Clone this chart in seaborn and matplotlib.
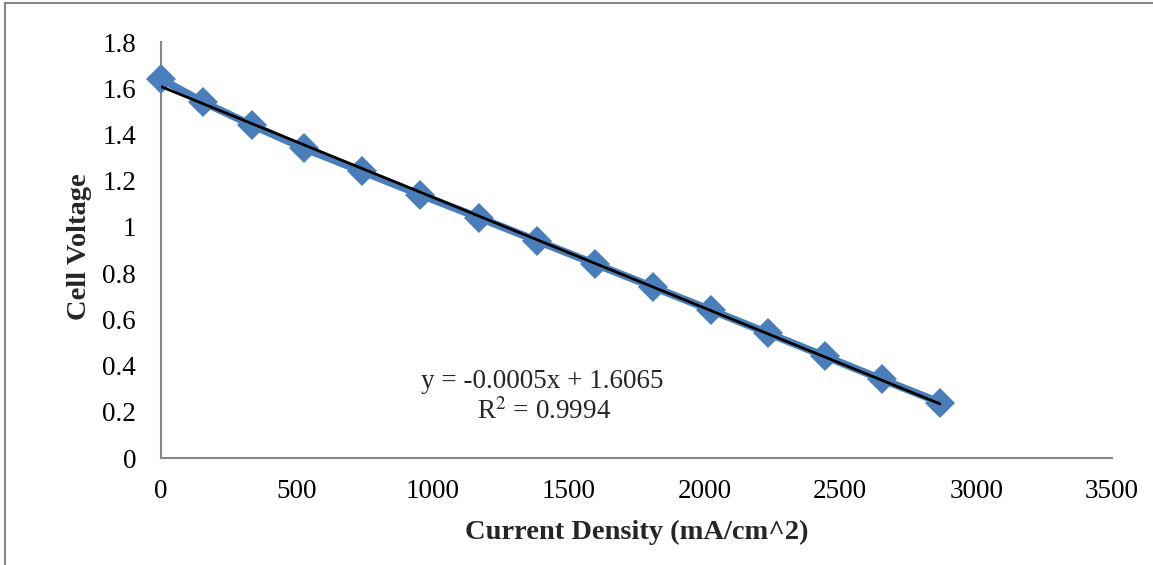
import numpy as np
import pandas as pd
import matplotlib
matplotlib.use('Agg')
import matplotlib.pyplot as plt
import seaborn as sns
from matplotlib.patches import Rectangle

# data
current_density = [0, 155, 335, 526, 740, 953, 1170, 1384, 1597, 1811, 2024, 2234, 2444, 2654, 2867]
cell_voltage = [1.64, 1.54, 1.44, 1.34, 1.24, 1.14, 1.04, 0.94, 0.84, 0.74, 0.64, 0.54, 0.44, 0.34, 0.24]
x_ticks = [0, 500, 1000, 1500, 2000, 2500, 3000, 3500]
y_ticks = [0, 0.2, 0.4, 0.6, 0.8, 1.0, 1.2, 1.4, 1.6, 1.8]
eq_text = "y = -0.0005x + 1.6065"
r2_text = "R$^2$ = 0.9994"

df = pd.DataFrame({'x': current_density, 'y': cell_voltage})

sns.set_style('white')
plt.rcParams['font.family'] = ['Liberation Serif', 'DejaVu Serif']
plt.rcParams['mathtext.fontset'] = 'stix'

blue = '#4A7EBB'
gray = '#868686'

fig = plt.figure(figsize=(11.53, 5.65), dpi=100)
ax = fig.add_axes([161 / 1153, 107 / 565, 951 / 1153, 416 / 565])

# outer chart border (cropped at right / bottom)
fig.patches.append(Rectangle((5 / 1153, -0.1), 1.2, (565 - 3) / 565 + 0.1,
                             transform=fig.transFigure, fill=False,
                             edgecolor=gray, linewidth=1.5))

# data series with diamond markers
sns.lineplot(data=df, x='x', y='y', ax=ax, color=blue, linewidth=5.5,
             marker='D', markersize=15, markeredgewidth=0, zorder=3)
for ln in ax.lines:
    ln.set_clip_on(False)

# linear trendline
sns.regplot(data=df, x='x', y='y', ax=ax, scatter=False, ci=None, truncate=True,
            line_kws=dict(color='black', linewidth=2, zorder=4))

ax.set_xlim(0, 3500)
ax.set_ylim(0, 1.8)
ax.set_xticks(x_ticks)
ax.set_yticks(y_ticks)
ax.set_yticklabels([f"{v:g}" for v in y_ticks])

for s in ['top', 'right']:
    ax.spines[s].set_visible(False)
for s in ['left', 'bottom']:
    ax.spines[s].set_color(gray)
    ax.spines[s].set_linewidth(1.5)
ax.tick_params(axis='both', which='both', direction='out', length=6, width=1.5,
               color=gray, labelsize=19.5, labelcolor='black')
ax.tick_params(axis='y', pad=12)
ax.tick_params(axis='x', pad=9)

ax.set_xlabel('Current Density (mA/cm^2)', fontsize=20.5, fontweight='bold')
ax.set_ylabel('Cell Voltage', fontsize=20.5, fontweight='bold')
ax.xaxis.set_label_coords(0.5, -0.148)
ax.yaxis.set_label_coords(-0.073, 0.507)

ax.text((542 - 161) / 951, (458 - 382) / 416, eq_text, fontsize=19.5,
        ha='center', va='center', transform=ax.transAxes)
ax.text((544 - 161) / 951, (458 - 412) / 416, r2_text, fontsize=19.5,
        ha='center', va='center', transform=ax.transAxes)

fig.savefig('out.png', dpi=100)
